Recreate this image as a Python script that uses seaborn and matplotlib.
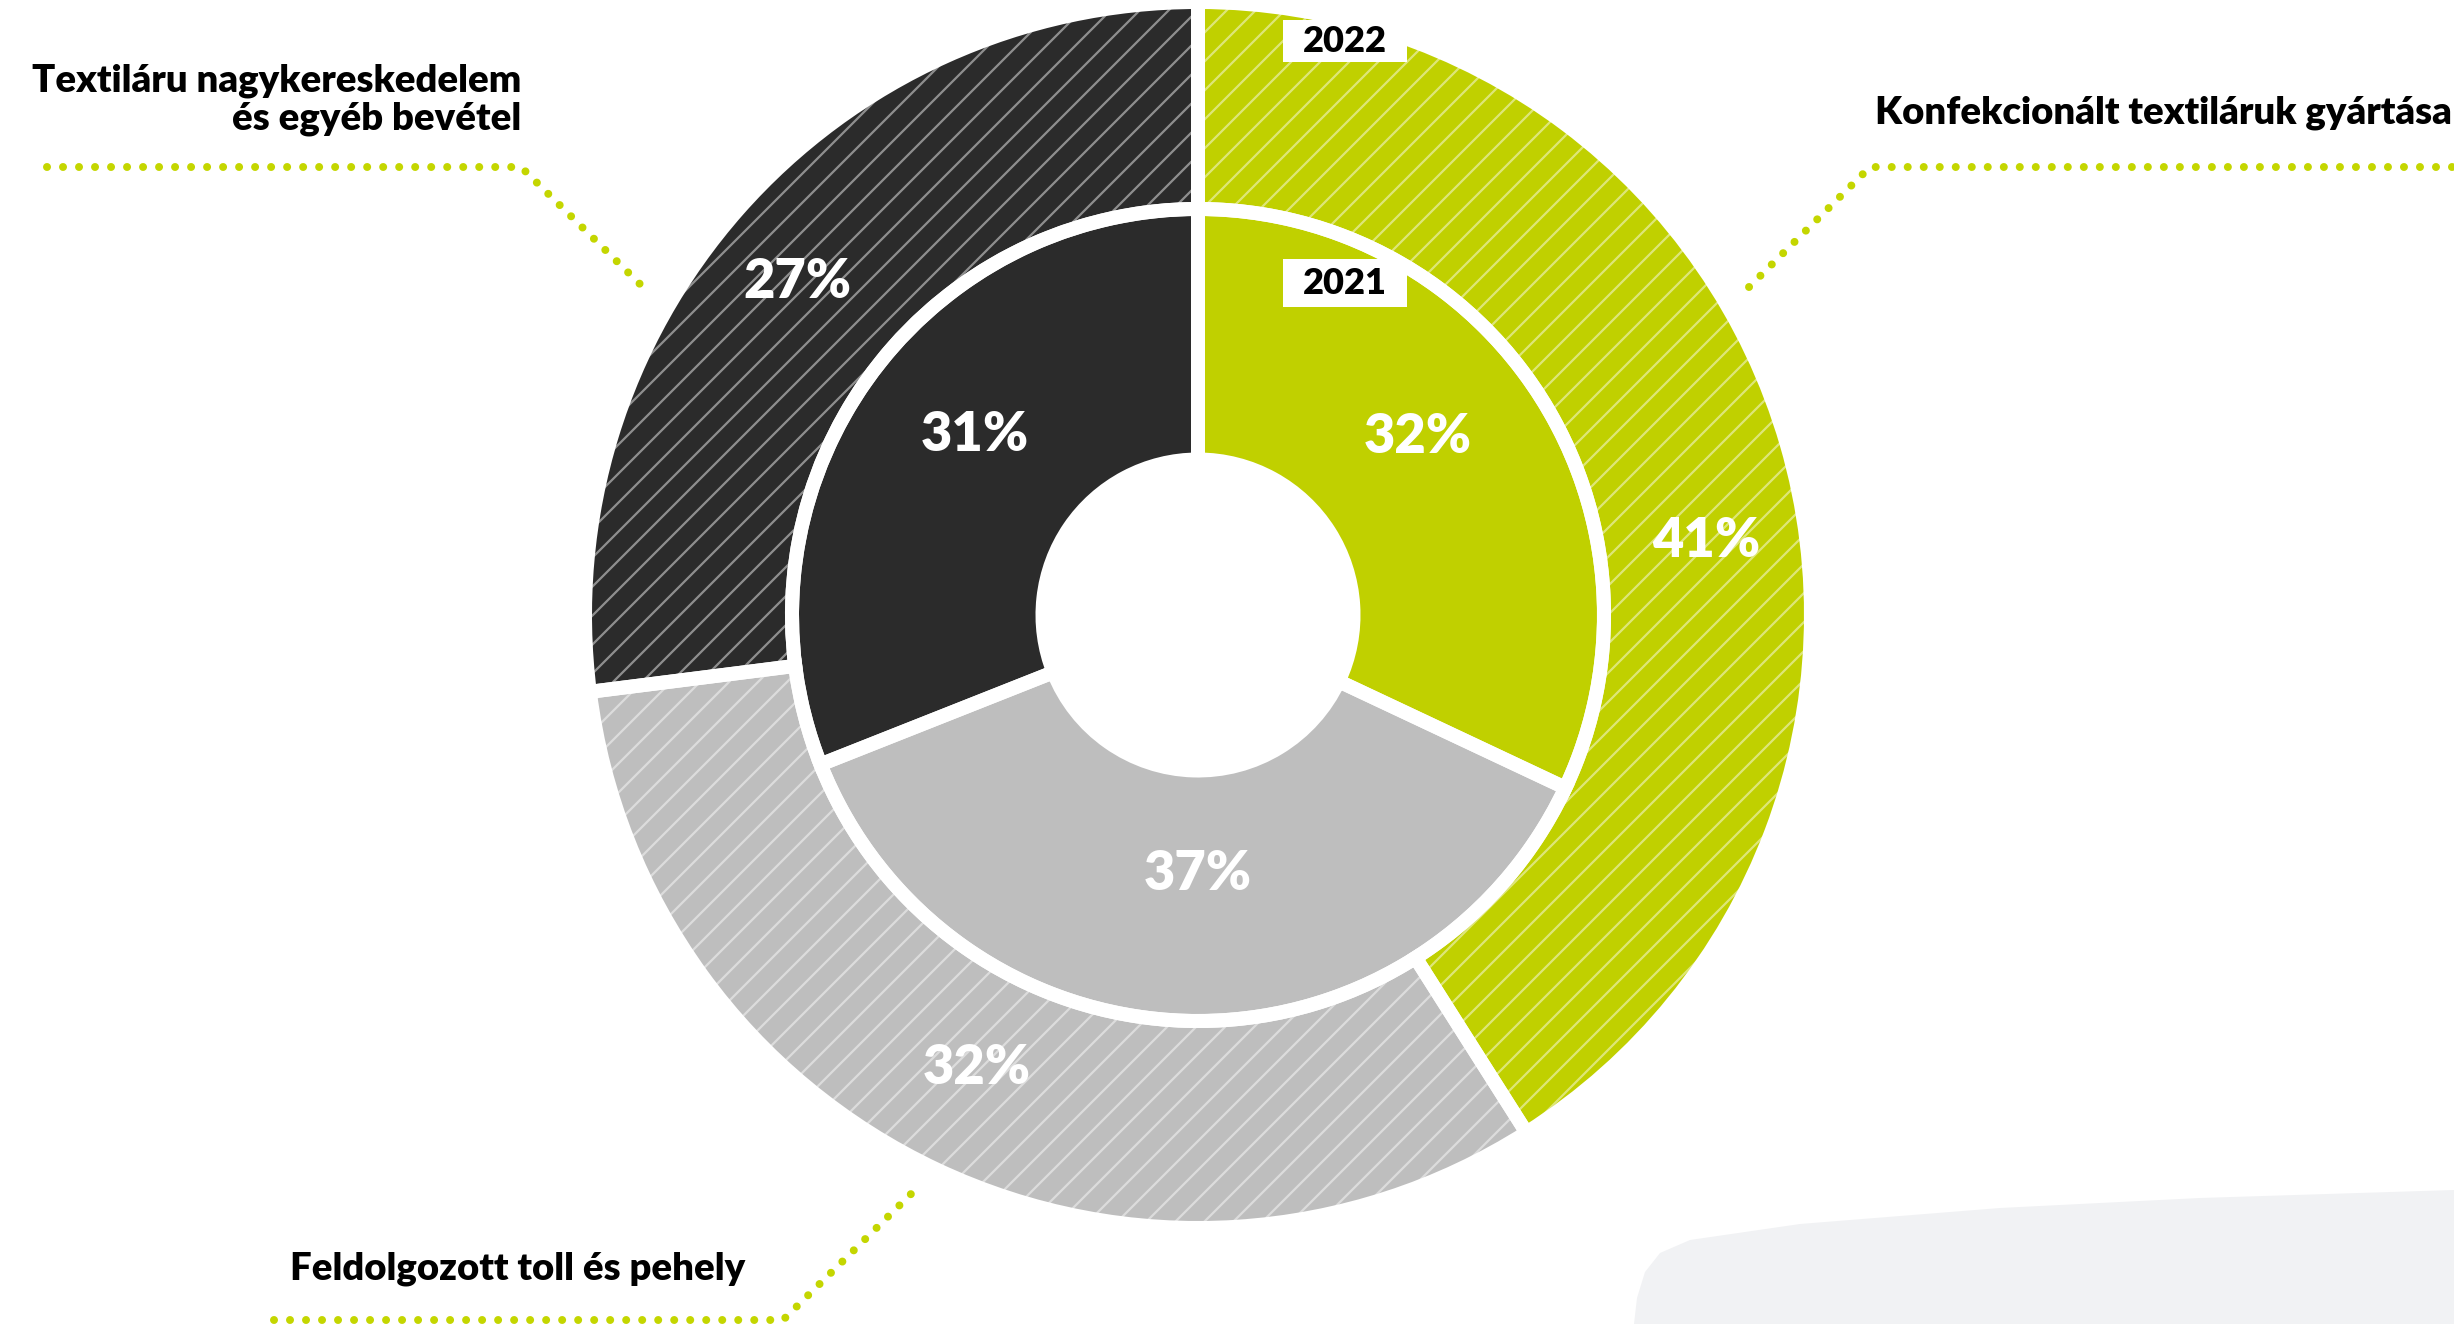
import numpy as np
import matplotlib
matplotlib.use("Agg")
import matplotlib.pyplot as plt
import seaborn as sns
from matplotlib.collections import LineCollection
from matplotlib.patches import Rectangle, Polygon

# ---------------- data ----------------
categories = ["Konfekcionált textiláruk gyártása",
              "Feldolgozott toll és pehely",
              "Textiláru nagykereskedelem\nés egyéb bevétel"]
share_2022 = [41, 32, 27]          # outer ring
share_2021 = [32, 37, 31]          # inner ring
year_labels = ["2022", "2021"]
palette = ["#c0d000", "#bebebe", "#2b2b2b"]

# ---------------- style ----------------
sns.set_theme(style="white")
plt.rcParams['font.family'] = ['Lato', 'DejaVu Sans']

W, H = 2454, 1324
fig = plt.figure(figsize=(W / 100, H / 100), dpi=100)
ax = fig.add_axes([0, 0, 1, 1])


def Y(py):
    return H - py


CX, CY = 1198, 615
R_OUT, R_MID, R_HOLE = 613, 406, 155.5
EDGE_LW = 14 * 0.72
GREEN_DOT = "#c4d600"

# faint background shape (lower right)
blob = [(1634, 1324), (1637, 1298), (1645, 1272), (1660, 1253), (1690, 1240),
        (1800, 1224), (2000, 1208), (2200, 1198), (2454, 1190), (2454, 1324)]
ax.add_patch(Polygon([(x, Y(y)) for x, y in blob], closed=True,
                     facecolor="#f1f2f4", edgecolor="none", zorder=0))

# ---------------- rings ----------------
common = dict(center=(CX, Y(CY)), startangle=90, counterclock=False)
outer, _ = ax.pie(share_2022, radius=R_OUT, colors=palette,
                  wedgeprops=dict(width=R_OUT - R_MID, linewidth=0), **common)
inner, _ = ax.pie(share_2021, radius=R_MID, colors=palette,
                  wedgeprops=dict(width=R_MID - R_HOLE, linewidth=0), **common)

# diagonal hatch on the outer (2022) ring
spacing = 29
segs = [[(0, c), (W, W + c)] for c in np.arange(-W - 40, H + 40, spacing)]
for w in outer:
    lc = LineCollection(segs, colors=[(1, 1, 1, 0.47)], linewidths=1.6, zorder=2)
    lc.set_clip_path(w)
    ax.add_collection(lc)

# white separators on top
eo, _ = ax.pie(share_2022, radius=R_OUT, colors=['none'] * 3,
               wedgeprops=dict(width=R_OUT - R_MID, edgecolor='white',
                               linewidth=EDGE_LW), **common)
ei, _ = ax.pie(share_2021, radius=R_MID, colors=['none'] * 3,
               wedgeprops=dict(width=R_MID - R_HOLE, edgecolor='white',
                               linewidth=EDGE_LW), **common)
for w in list(eo) + list(ei):
    w.set_zorder(3)

# ---------------- percentage labels ----------------
pct_pos_2022 = [(1706, 557), (977, 1084), (797, 298)]
pct_pos_2021 = [(1418, 453), (1198, 890), (975, 451)]
pct_style = dict(ha='center', va='baseline', color='white', fontsize=39,
                 fontweight='heavy', zorder=5)
for v, (x, yb) in zip(share_2022, pct_pos_2022):
    ax.text(x, Y(yb), f"{v}%", **pct_style)
for v, (x, yb) in zip(share_2021, pct_pos_2021):
    ax.text(x, Y(yb), f"{v}%", **pct_style)

# ---------------- year tags ----------------
year_boxes = [(1283, 20, 124, 42), (1283, 259, 124, 48)]
for lab, (bx, by, bw, bh) in zip(year_labels, year_boxes):
    ax.add_patch(Rectangle((bx, Y(by + bh)), bw, bh, facecolor='white',
                           edgecolor='none', zorder=6))
    ax.text(bx + bw / 2, Y(by + bh / 2), lab, ha='center', va='center',
            fontsize=26, fontweight='heavy', color='black', zorder=7)

# ---------------- leader lines ----------------
leaders = [
    [(2452, 167), (1870, 167), (1744, 292)],
    [(274, 1320), (783, 1320), (912, 1193)],
    [(47, 167), (521, 167), (646, 290)],
]
for pts in leaders:
    xs = [p[0] for p in pts]
    ys = [Y(p[1]) for p in pts]
    ax.plot(xs, ys, color=GREEN_DOT, linewidth=8 * 0.72,
            linestyle=(0, (0.001, 2.0)), dash_capstyle='round',
            solid_capstyle='round', zorder=4)

# ---------------- category labels ----------------
lab_style = dict(fontsize=27.5, fontweight='heavy', color='black', va='baseline', zorder=5)
ax.text(1875, Y(123), categories[0], ha='left', **lab_style)
ax.text(290, Y(1280), categories[1], ha='left', **lab_style)
for line, yb in zip(categories[2].split("\n"), [92, 130]):
    ax.text(521, Y(yb), line, ha='right', **lab_style)

ax.set_xlim(0, W)
ax.set_ylim(0, H)
ax.set_aspect('equal')
ax.axis('off')

fig.savefig("out.png", dpi=100, facecolor='white')
